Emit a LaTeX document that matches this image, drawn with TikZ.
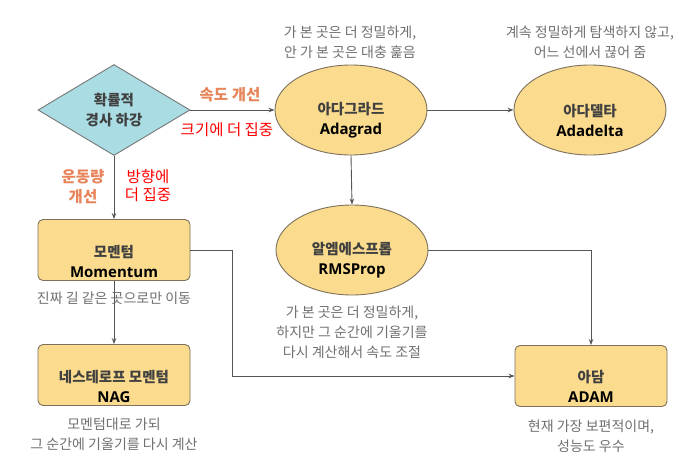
\documentclass[tikz,border=0pt]{standalone}
\usepackage{fontspec}
\setmainfont{Noto Sans CJK KR}
\newfontfamily\en{Open Sans}
\usetikzlibrary{shapes.geometric,arrows.meta}
\definecolor{yel}{HTML}{FBDC8E}
\definecolor{teal}{HTML}{A9DCE3}
\definecolor{bord}{HTML}{7D705C}
\definecolor{lin}{HTML}{555555}
\definecolor{desc}{HTML}{707070}
\definecolor{org}{HTML}{E8845A}
\definecolor{ttl}{HTML}{404040}
\tikzset{
  shapebase/.style={draw=bord, line width=0.9pt, fill=yel, inner sep=0pt},
  diam/.style={shapebase, fill=teal, draw=lin!80, diamond, minimum width=152pt, minimum height=91pt},
  ell/.style={shapebase, ellipse, minimum width=152pt, minimum height=90pt},
  box/.style={shapebase, rectangle, rounded corners=5pt, minimum width=152pt, minimum height=61pt},
  ttl/.style={align=center, text=ttl, font=\bfseries\fontsize{14.5}{20}\selectfont, inner sep=0pt},
  dsc/.style={align=center, text=desc, font=\fontsize{14}{20}\selectfont, inner sep=0pt},
  olab/.style={align=center, text=org, font=\bfseries\fontsize{15.5}{20}\selectfont, inner sep=0pt},
  rlab/.style={align=center, text=red, font=\fontsize{15.5}{18}\selectfont, inner sep=0pt},
  arr/.style={draw=lin, line width=0.9pt, -{Stealth[length=6pt,width=4.5pt]}},
}
\newcommand{\eng}[1]{{\en\bfseries\color{black}\fontsize{15}{20}\selectfont #1}}
\begin{document}
\begin{tikzpicture}[x=1pt,y=-1pt]
\useasboundingbox[fill=white] (0,0) rectangle (697,464);
% shapes
\node[diam] (sgd) at (114,110) {};
\node[ell] (ada) at (351,110) {};
\node[ell] (adad) at (590,110) {};
\node[ell] (rms) at (352,250) {};
\node[box] (mom) at (114,250) {};
\node[box] (nag) at (114,375) {};
\node[box] (adam) at (591,376) {};
% titles
\node[ttl] (sgdt) at (114,110) {확률적\\경사 하강};
\node[ttl] (adat) at (351,120) {아다그라드\\\eng{Adagrad}};
\node[ttl] (adadt) at (590,120) {아다델타\\\eng{Adadelta}};
\node[ttl] (rmst) at (352,260) {알엠에스프롭\\\eng{RMSProp}};
\node[ttl] (momt) at (114,261) {모멘텀\\\eng{Momentum}};
\node[ttl] (nagt) at (114,386) {네스테로프 모멘텀\\\eng{NAG}};
\node[ttl] (adamt) at (591,386) {아담\\\eng{ADAM}};
% descriptions
\node[dsc] (adad1) at (350,42) {가 본 곳은 더 정밀하게,\\안 가 본 곳은 대충 훑음};
\node[dsc] (adadd1) at (590,42) {계속 정밀하게 탐색하지 않고,\\어느 선에서 끊어 줌};
\node[dsc] (rmsd) at (352,332) {가 본 곳은 더 정밀하게,\\하지만 그 순간에 기울기를\\다시 계산해서 속도 조절};
\node[dsc] (momd) at (114,298) {진짜 길 같은 곳으로만 이동};
\node[dsc] (nagd) at (114,434) {모멘텀대로 가되\\그 순간에 기울기를 다시 계산};
\node[dsc] (adamd) at (591,436) {현재 가장 보편적이며,\\성능도 우수};
% connectors
\draw[arr] (sgd.east) -- (ada.west);
\draw[arr] (ada.east) -- (adad.west);
\draw[arr] (ada.south) -- (rms.north);
\draw[arr] (sgd.south) -- (mom.north);
\draw[arr] (mom.south) -- (nag.north);
\draw[arr] (rms.east) -| (adam.north);
\draw[arr] (mom.east) -- ++(42,0) |- (adam.west);
% labels
\node[olab] (l1) at (230,95) {속도 개선};
\node[rlab] (l2) at (227,130) {크기에 더 집중};
\node[olab] (l3) at (83,187) {운동량\\개선};
\node[rlab] (l4) at (148,186) {방향에\\더 집중};
\end{tikzpicture}
\end{document}
